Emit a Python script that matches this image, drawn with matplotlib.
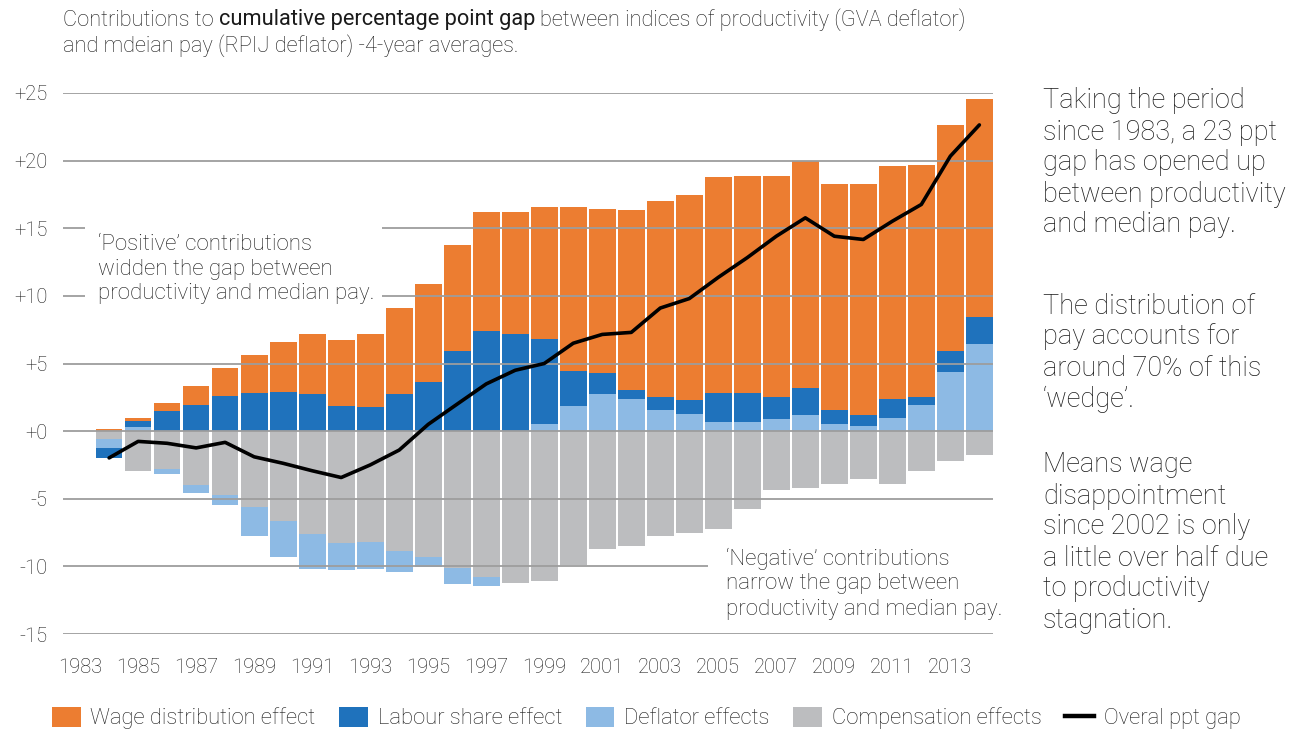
import numpy as np
import matplotlib
matplotlib.use('Agg')
import matplotlib.pyplot as plt
from matplotlib.patches import Patch, Rectangle
from matplotlib.lines import Line2D

plt.rcParams['font.family'] = ['Roboto', 'Liberation Sans', 'DejaVu Sans']
plt.rcParams['font.weight'] = 'light'
plt.rcParams['text.color'] = '#1a1a1a'

# data, 1984-2014 (ppt)
years = list(range(1984, 2015))
wage_dist = [0.14, 0.28, 0.62, 1.40, 2.09, 2.86, 3.74, 4.43, 4.87, 5.39,
             6.38, 7.27, 7.88, 8.83, 9.06, 9.75, 12.16, 12.16, 13.34, 14.50,
             15.16, 16.00, 16.08, 16.36, 16.79, 16.75, 17.10, 17.24, 17.17, 16.71,
             16.10]
labour_share = [-0.74, 0.42, 1.47, 1.95, 2.58, 2.79, 2.86, 2.72, 1.88, 1.81,
                2.72, 3.63, 5.89, 7.38, 7.15, 6.27, 2.59, 1.54, 0.63, 0.98,
                1.05, 2.10, 2.10, 1.61, 1.96, 1.05, 0.84, 1.40, 0.63, 1.56,
                1.97]
deflator = [-0.64, 0.30, -0.36, -0.57, -0.80, -2.13, -2.66, -2.56, -1.97, -1.97,
            -1.54, -0.73, -1.19, -0.66, 0.00, 0.56, 1.83, 2.74, 2.39, 1.55,
            1.27, 0.71, 0.71, 0.92, 1.20, 0.50, 0.36, 0.99, 1.90, 4.35,
            6.46]
compensation = [-0.60, -2.98, -2.83, -3.98, -4.69, -5.63, -6.61, -7.61, -8.27, -8.20,
                -8.85, -9.33, -10.12, -10.80, -11.25, -11.10, -9.90, -8.70, -8.48, -7.75,
                -7.53, -7.20, -5.77, -4.33, -4.18, -3.90, -3.53, -3.90, -2.97, -2.18,
                -1.75]
overall_gap = [-1.98, -0.76, -0.90, -1.24, -0.83, -1.90, -2.38, -2.93, -3.43, -2.50,
               -1.40, 0.50, 2.00, 3.49, 4.50, 5.00, 6.50, 7.15, 7.30, 9.10,
               9.80, 11.37, 12.83, 14.41, 15.77, 14.41, 14.17, 15.52, 16.76, 20.33,
               22.64]

series = [('Compensation effects', compensation, '#bcbdbf'),
          ('Deflator effects', deflator, '#8dbae4'),
          ('Labour share effect', labour_share, '#1f72bc'),
          ('Wage distribution effect', wage_dist, '#ec7d31')]

yticks = [-15, -10, -5, 0, 5, 10, 15, 20, 25]
ytick_labels = ['-15', '-10', '-5', '+0', '+5', '+10', '+15', '+20', '+25']
xticks = list(range(1983, 2014, 2))

W, H = 1298, 733
def fx(x): return x / W
def fy(y): return 1 - y / H

fig = plt.figure(figsize=(W / 100, H / 100), dpi=100)
ax = fig.add_axes([fx(63), fy(634), fx(993) - fx(63), fy(93) - fy(634)])

x = np.array(years)
pos_bottom = np.zeros(len(years))
neg_bottom = np.zeros(len(years))
for name, vals, col in series:
    v = np.array(vals)
    bottom = np.where(v >= 0, pos_bottom, neg_bottom)
    ax.bar(x, v, bottom=bottom, width=0.92, color=col, linewidth=0, zorder=2)
    pos_bottom += np.clip(v, 0, None)
    neg_bottom += np.clip(v, None, 0)

for v in yticks:
    ax.axhline(v, color='#9d9d9d', lw=1.3, zorder=2.5)

ax.plot(x, overall_gap, color='black', lw=2.6, solid_joinstyle='round',
        solid_capstyle='round', zorder=5)

ax.set_xlim(1982.41, 2014.47)
ax.set_ylim(-15, 25)
ax.set_yticks(yticks)
ax.set_yticklabels(ytick_labels)
ax.set_xticks(xticks)
ax.set_xticklabels([str(t) for t in xticks])
ax.tick_params(axis='y', length=0, pad=11, labelsize=14.5, labelcolor='#1a1a1a')
ax.tick_params(axis='x', length=0, pad=17, labelsize=14.5, labelcolor='#1a1a1a')
for s in ax.spines.values():
    s.set_visible(False)

# white boxes behind the annotations (they break the gridlines)
ax.add_patch(Rectangle((fx(85), fy(302)), fx(382) - fx(85), fy(226) - fy(302),
                       transform=fig.transFigure, facecolor='white',
                       edgecolor='none', zorder=3, clip_on=False))
ax.add_patch(Rectangle((fx(708), fy(625)), fx(1000) - fx(708), fy(545) - fy(625),
                       transform=fig.transFigure, facecolor='white',
                       edgecolor='none', zorder=3, clip_on=False))

pos_lines = ['\u2018Positive\u2019 contributions', 'widden the gap between',
             'productivity and median pay.']
for i, s in enumerate(pos_lines):
    fig.text(fx(98), fy(244 + 25 * i), s, fontsize=16, va='center', zorder=6)
neg_lines = ['\u2018Negative\u2019 contributions', 'narrow the gap between',
             'productivity and median pay.']
for i, s in enumerate(neg_lines):
    fig.text(fx(726), fy(559 + 25 * i), s, fontsize=16, va='center', zorder=6)

# title, with the key phrase in a heavier weight
fig.canvas.draw()
r = fig.canvas.get_renderer()
tsize = 15.7
t1 = fig.text(fx(63), fy(20), 'Contributions to', fontsize=tsize, va='center')
w1 = t1.get_window_extent(r).width
t2 = fig.text(fx(63 + w1 + 5), fy(20), 'cumulative percentage point gap',
              fontsize=tsize, va='center', fontweight='normal')
w2 = t2.get_window_extent(r).width
fig.text(fx(63 + w1 + 5 + w2 + 5), fy(20),
         'between indices of productivity (GVA deflator)',
         fontsize=tsize, va='center')
fig.text(fx(63), fy(46), 'and mdeian pay (RPIJ deflator) -4-year averages.',
         fontsize=tsize, va='center')

# right hand commentary
paras = [(101, ['Taking the period', 'since 1983, a 23 ppt', 'gap has opened up',
                'between productivity', 'and median pay.']),
         (306, ['The distribution of', 'pay accounts for', 'around 70% of this',
                '\u2018wedge\u2019.']),
         (465, ['Means wage', 'disappointment', 'since 2002 is only',
                'a little over half due', 'to productivity', 'stagnation.'])]
for y0, lines in paras:
    for i, s in enumerate(lines):
        fig.text(fx(1043), fy(y0 + 31 * i), s, fontsize=19.5, va='center')

handles = [Patch(facecolor='#ec7d31', label='Wage distribution effect'),
           Patch(facecolor='#1f72bc', label='Labour share effect'),
           Patch(facecolor='#8dbae4', label='Deflator effects'),
           Patch(facecolor='#bcbdbf', label='Compensation effects'),
           Line2D([0], [0], color='black', lw=3.2, label='Overal ppt gap')]
fig.legend(handles=handles, loc='center left', bbox_to_anchor=(fx(52), fy(718)),
           ncol=5, frameon=False, fontsize=15.8, handlelength=1.3,
           handleheight=1.05, handletextpad=0.45, columnspacing=1.08,
           borderpad=0, borderaxespad=0)

fig.savefig('out.png', dpi=100)
